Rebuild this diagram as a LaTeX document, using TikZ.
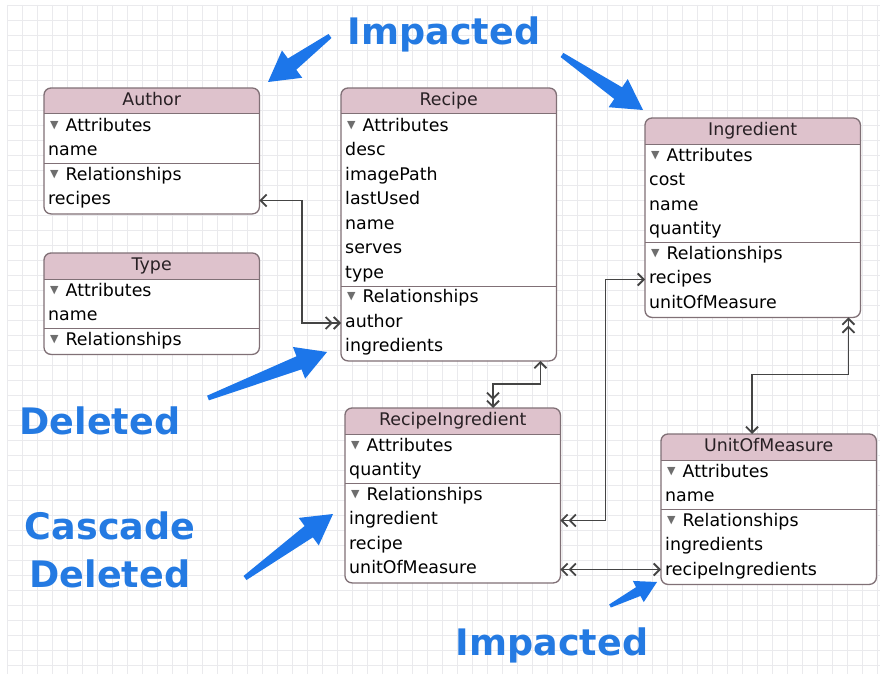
\documentclass[tikz,border=0pt]{standalone}
\usepackage{fontspec}
\setmainfont{DejaVu Sans}
\usetikzlibrary{arrows.meta,calc,positioning}

\definecolor{headpink}{RGB}{222,194,204}
\definecolor{entborder}{RGB}{128,112,118}
\definecolor{relgray}{RGB}{68,68,68}
\definecolor{trigray}{RGB}{110,110,110}
\definecolor{titlegray}{RGB}{40,32,36}
\definecolor{gridgray}{RGB}{234,234,237}
\definecolor{arrowblue}{RGB}{28,118,234}
\definecolor{lblblue}{RGB}{36,122,226}

\newcommand{\tri}{{\color{trigray}\fontsize{11}{11}\selectfont\raisebox{3pt}{▼}}\hspace{7pt}}

\newcommand{\entity}[8]{%
  \node[entbox, minimum height=#4] (#1) at (#2,#3) {};
  \begin{scope}
    \clip[rounded corners=7pt] (#1.north west) rectangle (#1.south east);
    \fill[headpink] (#1.north west) rectangle ([yshift=-26pt]#1.north east);
  \end{scope}
  \draw[entsep] ([yshift=-26pt]#1.north west) -- ([yshift=-26pt]#1.north east);
  \node[enttitle] (#1-title) at ([yshift=-13pt]#1.north) {#5};
  \node[field] (#1-attr) at ([shift={(6pt,-39pt)}]#1.north west) {\tri Attributes};
  \foreach \f [count=\i] in {#6}
    \node[field] (#1-\f) at ([shift={(4pt,-39pt-24.5pt*\i)}]#1.north west) {\f};
  \draw[entsep] ([yshift=-51.25pt-24.5pt*#7]#1.north west) -- ([yshift=-51.25pt-24.5pt*#7]#1.north east);
  \node[field] (#1-rel) at ([shift={(6pt,-63.5pt-24.5pt*#7)}]#1.north west) {\tri Relationships};
  \if\relax\detokenize{#8}\relax\else
  \foreach \f [count=\i] in {#8}
    \node[field] (#1-\f) at ([shift={(4pt,-63.5pt-24.5pt*#7-24.5pt*\i)}]#1.north west) {\f};
  \fi
  \draw[entedge] (#1.north west) rectangle (#1.south east);
}

\newcommand{\fatarrow}[3][1]{%
  \pgfmathsetlengthmacro\hdlen{30pt*#1}%
  \pgfmathsetlengthmacro\hdw{17pt*#1}%
  \pgfmathsetlengthmacro\shw{7pt*#1}%
  \pgfmathsetlengthmacro\tlw{2.5pt*#1}%
  \coordinate (hb) at ($(#3)!\hdlen!(#2)$);
  \fill[arrowblue] ($(#2)!\tlw!90:(#3)$) -- ($(hb)!\shw!90:(#3)$) -- ($(hb)!\hdw!90:(#3)$)
    -- (#3) -- ($(hb)!\hdw!-90:(#3)$) -- ($(hb)!\shw!-90:(#3)$) -- ($(#2)!\tlw!-90:(#3)$) -- cycle;
}

\begin{document}
\begin{tikzpicture}[x=1pt,y=-1pt,
entbox/.style={rectangle, fill=white, minimum width=215pt, anchor=north west, inner sep=0pt, rounded corners=7pt},
entedge/.style={draw=entborder, line width=1.3pt, rounded corners=7pt},
entsep/.style={draw=entborder, line width=1pt},
field/.style={anchor=west, inner sep=0pt, text height=12pt, text depth=3.5pt, font=\fontsize{17.4}{20}\selectfont},
enttitle/.style={inner sep=0pt, text height=12pt, text depth=3.5pt, font=\fontsize{17.4}{20}\selectfont, text=titlegray},
rel/.style={draw=relgray, line width=1.8pt, >={Straight Barb[length=6pt,width=12pt]}},
lbl/.style={inner sep=0pt, anchor=base, text=lblblue, font=\bfseries\fontsize{36.5}{48}\selectfont},
gridline/.style={draw=gridgray, line width=0.6pt}]

\useasboundingbox[fill=white] (0,0) rectangle (880,674);
\foreach \gx in {7,22,...,877} \draw[gridline] (\gx,5) -- (\gx,674);
\foreach \gy in {5,20,...,665} \draw[gridline] (7,\gy) -- (880,\gy);

\entity{author}{44}{88}{125.5pt}{Author}{name}{1}{recipes}
\entity{type}{44}{253}{101pt}{Type}{name}{1}{}
\entity{recipe}{341}{88}{272.5pt}{Recipe}{desc,imagePath,lastUsed,name,serves,type}{6}{author,ingredients}
\entity{ingredient}{645}{118}{199pt}{Ingredient}{cost,name,quantity}{3}{recipes,unitOfMeasure}
\entity{ri}{345}{408}{174.5pt}{RecipeIngredient}{quantity}{1}{ingredient,recipe,unitOfMeasure}
\entity{uom}{661}{434}{150pt}{UnitOfMeasure}{name}{1}{ingredients,recipeIngredients}

\draw[rel, <<->] (recipe.west |- recipe-author) -- ++(-39,0) |- (author.east |- author-recipes);
\draw[rel, <->>] ([xshift=-16pt]recipe.south east) -- ++(0,23) -| ([xshift=148pt]ri.north west);
\draw[rel, <<->] (ri.east |- ri-ingredient) -- ++(45,0) |- (ingredient.west |- ingredient-recipes);
\draw[rel, <<->] (ri.east |- ri-unitOfMeasure) -- (uom.west |- ri-unitOfMeasure);
\draw[rel, <<->] ([xshift=-12pt]ingredient.south east) -- ++(0,57) -| ([xshift=91pt]uom.north west);

\node[lbl] (imp-top) at (444,45) {Impacted};
\node[lbl] (deleted) at (100,434) {Deleted};
\node[lbl, align=center] (cascade) at (110,587) {Cascade\\Deleted};
\node[lbl] (imp-bot) at (552,655) {Impacted};

\coordinate (impA-tail) at (330,36);
\coordinate (impA-tip) at (268,82);
\coordinate (impB-tail) at (562,55);
\coordinate (impB-tip) at (643,110);
\coordinate (del-tail) at (208,398);
\coordinate (del-tip) at (327,352);
\coordinate (cas-tail) at (245,578);
\coordinate (cas-tip) at (333,514);
\coordinate (impC-tail) at (610,606);
\coordinate (impC-tip) at (657,582);

\fatarrow{impA-tail}{impA-tip}
\fatarrow{impB-tail}{impB-tip}
\fatarrow{del-tail}{del-tip}
\fatarrow{cas-tail}{cas-tip}
\fatarrow[0.7]{impC-tail}{impC-tip}
\end{tikzpicture}
\end{document}
